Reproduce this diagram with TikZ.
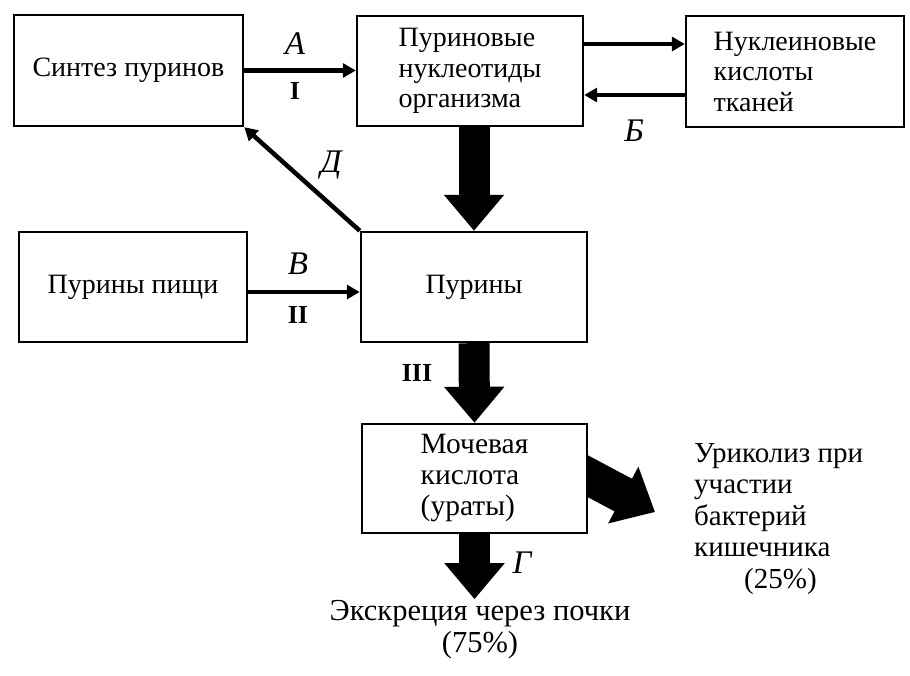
\documentclass[tikz,border=0pt]{standalone}
\usepackage{fontspec}
\setmainfont{Liberation Serif}
\usetikzlibrary{arrows.meta,backgrounds,calc}
\begin{document}
\begin{tikzpicture}[x=1pt,y=-1pt,
  box/.style={draw,line width=2.4pt,fill=white,inner sep=0pt,align=left,
    font=\fontsize{28}{30.5}\selectfont},
  conn/.style={line width=4.5pt,-{Triangle[length=13pt,width=14pt]}},
  big/.style={line width=31pt,-{Triangle[length=36pt,width=58pt]}},
  diag/.style={line width=37pt,-{Triangle[length=36pt,width=62pt]}},
  lab/.style={inner sep=0pt,font=\fontsize{33}{34}\selectfont\itshape},
  num/.style={inner sep=0pt,font=\fontsize{26}{30}\selectfont\bfseries},
  txt/.style={inner sep=0pt,font=\fontsize{29.5}{31.5}\selectfont}]
\useasboundingbox (0,0) rectangle (910,675);
% boxes
\node[box,minimum width=229pt,minimum height=111pt] (synth) at (128.5,70.5) {Синтез пуринов};
\node[box,minimum width=226pt,minimum height=110pt] (nucl) at (470,71) {Пуриновые\\нуклеотиды\\организма};
\node[box,minimum width=218pt,minimum height=111pt] (acid) at (795,71.5) {Нуклеиновые\\кислоты\\тканей};
\node[box,minimum width=228pt,minimum height=110pt] (food) at (133,287) {Пурины пищи};
\node[box,minimum width=226pt,minimum height=110pt] (pur) at (474,287) {Пурины};
\node[box,minimum width=225pt,minimum height=109pt,font=\fontsize{29.5}{31}\selectfont] (uric) at (474.5,478.5) {Мочевая\\кислота\\(ураты)};
% free ends
\coordinate (gtip) at ($(uric.south)+(0,65)$);
\coordinate (urtip) at (655,512);
% texts
\node[txt,font=\fontsize{30.5}{32}\selectfont,align=center,anchor=north] (excr) at (480,600) {Экскреция через почки\\(75\%)};
\node[txt,font=\fontsize{29}{31.5}\selectfont,align=left,anchor=north west] (urico) at (694,443) {Уриколиз при\\участии\\бактерий\\кишечника\\\hspace*{50pt}(25\%)};
% thin connectors
\coordinate (n1) at ($(nucl.east)+(0,-27)$);
\coordinate (n2) at ($(acid.west)+(0,23.5)$);
\coordinate (fe) at ($(food.east)+(0,5)$);
\draw[conn] (synth.east) -- (synth.east -| nucl.west);
\draw[conn] (n1) -- (n1 -| acid.west);
\draw[conn] (n2) -- (n2 -| nucl.east);
\draw[conn] (fe) -- (fe -| pur.west);
\draw[conn] (pur.north west) -- (synth.south east);
% thick connectors
\draw[big] (pur.north |- nucl.south) -- (pur.north);
\draw[big] (pur.south) -- (uric.north);
\draw[big] (uric.south) -- (gtip);
\begin{pgfonlayer}{background}
\draw[diag] ($(uric.east)+(-27,-16.5)$) -- (urtip);
\end{pgfonlayer}
% labels
\node[lab] (la) at (295,44) {А};
\node[num] (l1) at (295,91) {I};
\node[lab] (lb) at (634,131) {Б};
\node[lab] (ld) at (331,165) {Д};
\node[lab] (lv) at (298,264) {В};
\node[num] (l2) at (298,315) {II};
\node[num] (l3) at (417,373) {III};
\node[lab] (lg) at (522,563) {Г};
\end{tikzpicture}
\end{document}
